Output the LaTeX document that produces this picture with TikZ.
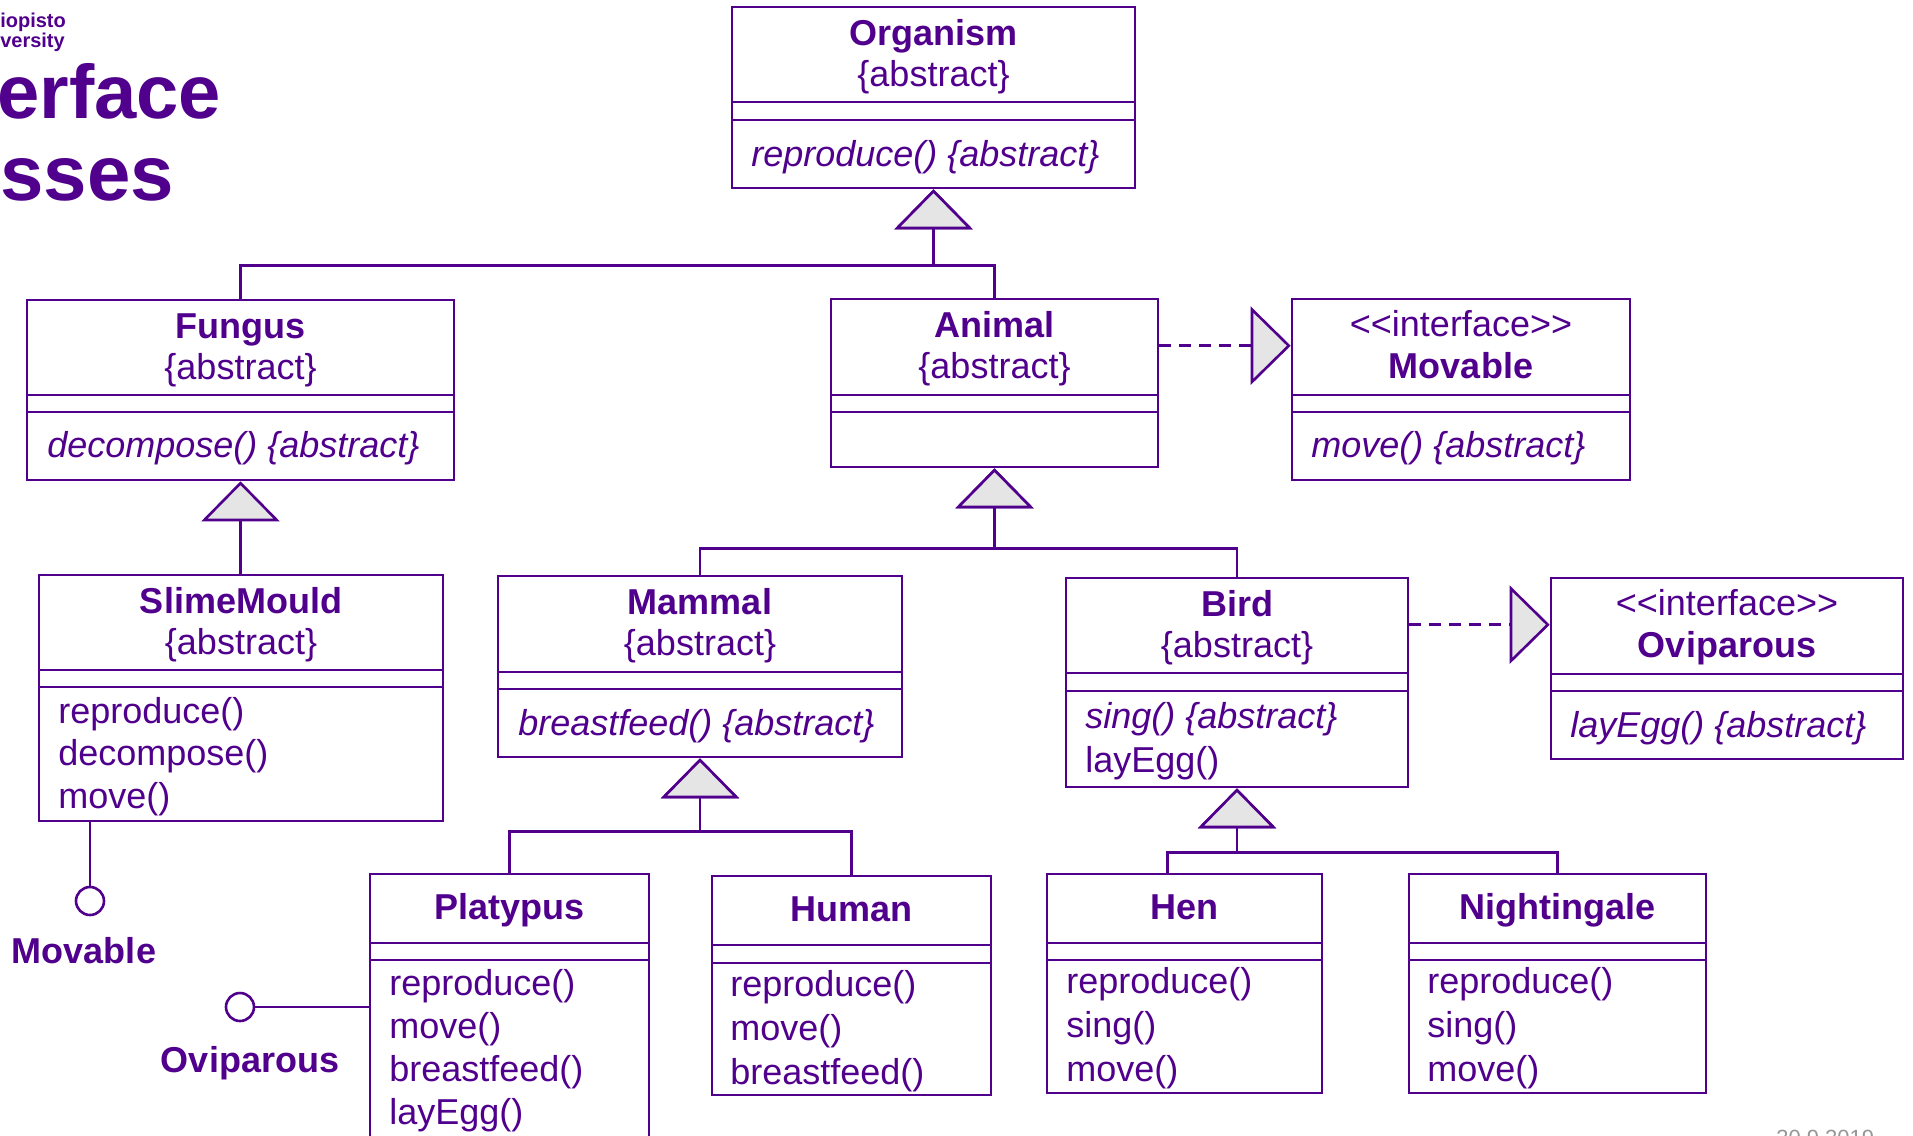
\documentclass[tikz,border=0pt]{standalone}
\usepackage{fontspec}
\setmainfont{Liberation Sans}
\usepackage{tikz}
\usetikzlibrary{arrows.meta,fit}

\definecolor{aaltoviolet}{RGB}{80,0,140}
\definecolor{tipgrey}{RGB}{229,229,229}
\definecolor{dategrey}{RGB}{150,150,150}
\newcommand\umlfont{\fontsize{18pt}{21pt}\selectfont}

\begin{document}
\begin{tikzpicture}[x=0.5pt,y=-0.5pt,line width=1.3pt,aaltoviolet,
    cls/.style={draw,inner sep=0pt},
    clsname/.style={anchor=base,inner sep=0pt,font=\umlfont\bfseries},
    clsnote/.style={anchor=base,inner sep=0pt,font=\umlfont},
    op/.style={anchor=base west,inner sep=0pt,font=\umlfont},
    absop/.style={op,font=\umlfont\itshape},
    genarrow/.style={-{Triangle[length=20pt,width=39pt,fill=tipgrey]}},
    realarrow/.style={dash pattern=on 6pt off 4pt,-{Triangle[length=20pt,width=39pt,fill=tipgrey]}},
    lolli/.style={draw,circle,minimum size=14pt,inner sep=0pt}]
  \useasboundingbox (0,0) rectangle (1913,1136);
  \clip (0,0) rectangle (1913,1136);

  \node[anchor=base west,inner sep=0pt,font=\fontsize{10pt}{12pt}\selectfont\bfseries] (logoa) at (-1,27) {iopisto};
  \node[anchor=base west,inner sep=0pt,font=\fontsize{10pt}{12pt}\selectfont\bfseries] (logob) at (-1,47) {versity};
  \node[anchor=base west,inner sep=0pt,font=\fontsize{38pt}{40pt}\selectfont\bfseries] (titlea) at (-4,118) {erface};
  \node[anchor=base west,inner sep=0pt,font=\fontsize{39pt}{41pt}\selectfont\bfseries] (titleb) at (-1,200) {sses};
  \node[anchor=base west,inner sep=0pt,text=dategrey,font=\fontsize{11pt}{13pt}\selectfont] (date) at (1775,1145) {30.9.2019};

  \foreach \n/\xa/\ya/\xb/\yb/\da/\db in {organism/732/7/1135/188/102/120,
      fungus/27/300/454/480/395/412, animal/831/299/1158/467/395/412,
      movable/1292/299/1630/480/395/412, slime/39/575/443/821/670/687,
      mammal/498/576/902/757/672/689, bird/1066/578/1408/787/673/691,
      oviparous/1551/578/1903/759/674/691, platypus/370/874/649/1160/943/960,
      human/712/876/991/1095/945/963, hen/1047/874/1322/1093/943/960,
      nightingale/1409/874/1706/1093/943/960}
  {
    \node[cls,fit={(\xa,\ya) (\xb,\yb)}] (\n) {};
    \draw (\xa,\da) -- (\xb,\da) (\xa,\db) -- (\xb,\db);
  }

  \foreach \n/\t in {organism/Organism,fungus/Fungus,animal/Animal,slime/SlimeMould,mammal/Mammal,bird/Bird}
  {
    \node[clsname] (\n-name) at ([yshift=-20pt]\n.north) {\t};
    \node[clsnote] (\n-note) at ([yshift=-40.5pt]\n.north) {\{abstract\}};
  }
  \foreach \n/\t in {movable/Movable,oviparous/Oviparous}
  {
    \node[clsnote] (\n-note) at ([yshift=-19.5pt]\n.north) {<\kern0pt<interface>\kern0pt>};
    \node[clsname] (\n-name) at ([yshift=-40.5pt]\n.north) {\t};
  }
  \foreach \n/\t in {platypus/Platypus,human/Human,hen/Hen,nightingale/Nightingale}
    \node[clsname] (\n-name) at ([yshift=-23.5pt]\n.north) {\t};

  \foreach \x/\y/\m [count=\i] in {750/166/reproduce() \{abstract\}, 46/457/decompose() \{abstract\},
      1310/457/move() \{abstract\}, 517/735/breastfeed() \{abstract\},
      1084/728/sing() \{abstract\}, 1569/737/layEgg() \{abstract\}}
    \node[absop] (absop\i) at (\x,\y) {\m};

  \foreach \x/\y/\m [count=\i] in {1084/772/layEgg(),
      57/723/reproduce(), 57/765/decompose(), 57/808/move(),
      388/995/reproduce(), 388/1038/move(), 388/1081/breastfeed(), 388/1124/layEgg(),
      729/996/reproduce(), 729/1040/move(), 729/1084/breastfeed(),
      1065/993/reproduce(), 1065/1037/sing(), 1065/1081/move(),
      1426/993/reproduce(), 1426/1037/sing(), 1426/1081/move()}
    \node[op] (op\i) at (\x,\y) {\m};

  \draw[genarrow] (fungus.north) |- ([yshift=-38pt]organism.south) -- (organism.south);
  \draw[genarrow] (animal.north) |- ([yshift=-38pt]organism.south) -- (organism.south);
  \draw[genarrow] (slime.north -| fungus.south) -- (fungus.south);
  \draw[genarrow] (mammal.north) |- ([yshift=-40pt]animal.south) -- (animal.south);
  \draw[genarrow] (bird.north) |- ([yshift=-40pt]animal.south) -- (animal.south);
  \draw[genarrow] (platypus.north) |- ([yshift=-36.5pt]mammal.south) -- (mammal.south);
  \draw[genarrow] (human.north) |- ([yshift=-36.5pt]mammal.south) -- (mammal.south);
  \draw[genarrow] ([xshift=-8.5pt]hen.north) |- ([yshift=-32pt]bird.south) -- (bird.south);
  \draw[genarrow] (nightingale.north) |- ([yshift=-32pt]bird.south) -- (bird.south);

  \draw[realarrow] ([yshift=-24pt]animal.north east) -- ([yshift=-24pt]movable.north west);
  \draw[realarrow] ([yshift=-24pt]bird.north east) -- ([yshift=-24pt]oviparous.north west);

  \node[lolli] (movlolli) at (90,901) {};
  \draw (slime.south -| movlolli) -- (movlolli);
  \node[clsname] (movlabel) at (84,963) {Movable};
  \node[lolli] (ovilolli) at (240,1007) {};
  \draw (ovilolli) -- (ovilolli -| platypus.west);
  \node[clsname] (ovilabel) at (250,1072) {Oviparous};
\end{tikzpicture}
\end{document}
